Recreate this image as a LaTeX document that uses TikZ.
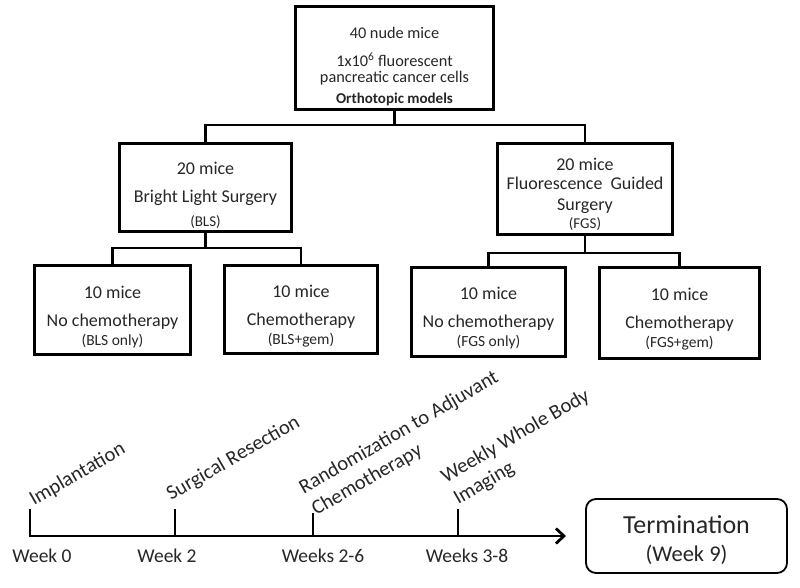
\documentclass[tikz,border=0pt]{standalone}
\usepackage{fontspec}
\setmainfont{Carlito}
\usetikzlibrary{arrows.meta}
\newcommand\myfs[2]{\fontsize{#1}{#2}\selectfont}
\begin{document}
\begin{tikzpicture}[x=1pt,y=-1pt,
  box/.style={draw=black, line width=2.8pt, align=center, inner sep=0pt, text=black!85},
  conn/.style={draw=black, line width=2.8pt},
  lbl/.style={text=black!85, inner sep=0pt, font=\myfs{20.5}{25}},
  rlbl/.style={lbl, rotate=30, align=left},
  wk/.style={text=black!85, inner sep=0pt, font=\myfs{19.5}{22}}]
\useasboundingbox (0,0) rectangle (800,587);

% boxes
\node[box, minimum width=198, minimum height=103, font=\myfs{16.3}{19}] (top) at (394.5,58)
  {\rule{0pt}{28pt}40 nude mice\\[9pt] 1x10\textsuperscript{6} fluorescent\\[-3pt] pancreatic cancer cells\\[2pt] {\myfs{15}{19}\bfseries Orthotopic models}};
\node[box, minimum width=172, minimum height=88, font=\myfs{18}{22}] (bls) at (205.5,187.5)
  {\rule{0pt}{28pt}20 mice\\[6pt] Bright Light Surgery\\[2pt] {\myfs{15}{22}(BLS)}};
\node[box, minimum width=175, minimum height=91, font=\myfs{18}{20}] (fgs) at (585,189)
  {\rule{0pt}{24pt}20 mice\\[-1pt] Fluorescence\ \ Guided\\[1pt] Surgery\\[-2pt] {\myfs{15}{20}(FGS)}};
\node[box, minimum width=156, minimum height=89, font=\myfs{18}{20}] (blsonly) at (112.5,310)
  {\rule{0pt}{26pt}10 mice\\[8pt] No chemotherapy\\[-1pt] {\myfs{15.5}{20}(BLS only)}};
\node[box, minimum width=153, minimum height=88, font=\myfs{18}{20}] (blsgem) at (301,309.5)
  {\rule{0pt}{26pt}10 mice\\[8pt] Chemotherapy\\[-1pt] {\myfs{15.5}{20}(BLS+gem)}};
\node[box, minimum width=154, minimum height=89, font=\myfs{18}{20}] (fgsonly) at (488.5,312)
  {\rule{0pt}{25pt}10 mice\\[8pt] No chemotherapy\\[-1pt] {\myfs{15.5}{20}(FGS only)}};
\node[box, minimum width=160, minimum height=91, font=\myfs{18}{20}] (fgsgem) at (679.5,313)
  {\rule{0pt}{25pt}10 mice\\[8pt] Chemotherapy\\[-1pt] {\myfs{15.5}{20}(FGS+gem)}};

% connectors
\draw[conn] (top.south) -- ++(0,14) -| (bls.north);
\draw[conn] (top.south) -- ++(0,14) -| (fgs.north);
\draw[conn] (bls.south) -- ++(0,15) -| (blsonly.north);
\draw[conn] (bls.south) -- ++(0,15) -| (blsgem.north);
\draw[conn] (fgs.south) -- ++(0,17) -| (fgsonly.north);
\draw[conn] (fgs.south) -- ++(0,17) -| (fgsgem.north);

% timeline
\coordinate (t0) at (30,536);
\coordinate (t0top) at (30,509);
\coordinate (t1) at (175,536);
\coordinate (t1top) at (175,509);
\coordinate (t2) at (313,536);
\coordinate (t2top) at (313,513);
\coordinate (t3) at (458,536);
\coordinate (t3top) at (458,509);
\coordinate (tend) at (566,536);
\draw[conn, -{Straight Barb[length=8pt,width=15pt,line width=2.8pt]}] (t0top) -- (t0) -- (tend);
\draw[conn] (t1top) -- (t1);
\draw[conn] (t2top) -- (t2);
\draw[conn] (t3top) -- (t3);

% rotated labels
\node[rlbl, anchor=base west] (limp) at ([shift={(4,-3)}]t0top) {Implantation};
\node[rlbl, anchor=base west] (lsur) at ([shift={(-4,-8)}]t1top) {Surgical Resection};
\node[rlbl, anchor=south west] (lran) at ([shift={(5,6)}]t2top) {Randomization to Adjuvant\\Chemotherapy};
\node[rlbl, anchor=south west] (lwee) at ([shift={(2,-1)}]t3top) {Weekly Whole Body\\Imaging};

% week labels
\node[wk] (w0) at (42,556) {Week 0};
\node[wk] (w2) at (167,556) {Week 2};
\node[wk] (w26) at (323,556) {Weeks 2-6};
\node[wk] (w38) at (467,556) {Weeks 3-8};

% termination
\node[draw=black, line width=1.8pt, rounded corners=10pt, minimum width=201, minimum height=74,
  align=center, inner sep=0pt, text=black!85, font=\myfs{26}{28}] (term) at (686.5,536)
  {\rule{0pt}{26pt}Termination\\{\myfs{22.5}{28}(Week 9)}};
\end{tikzpicture}
\end{document}
